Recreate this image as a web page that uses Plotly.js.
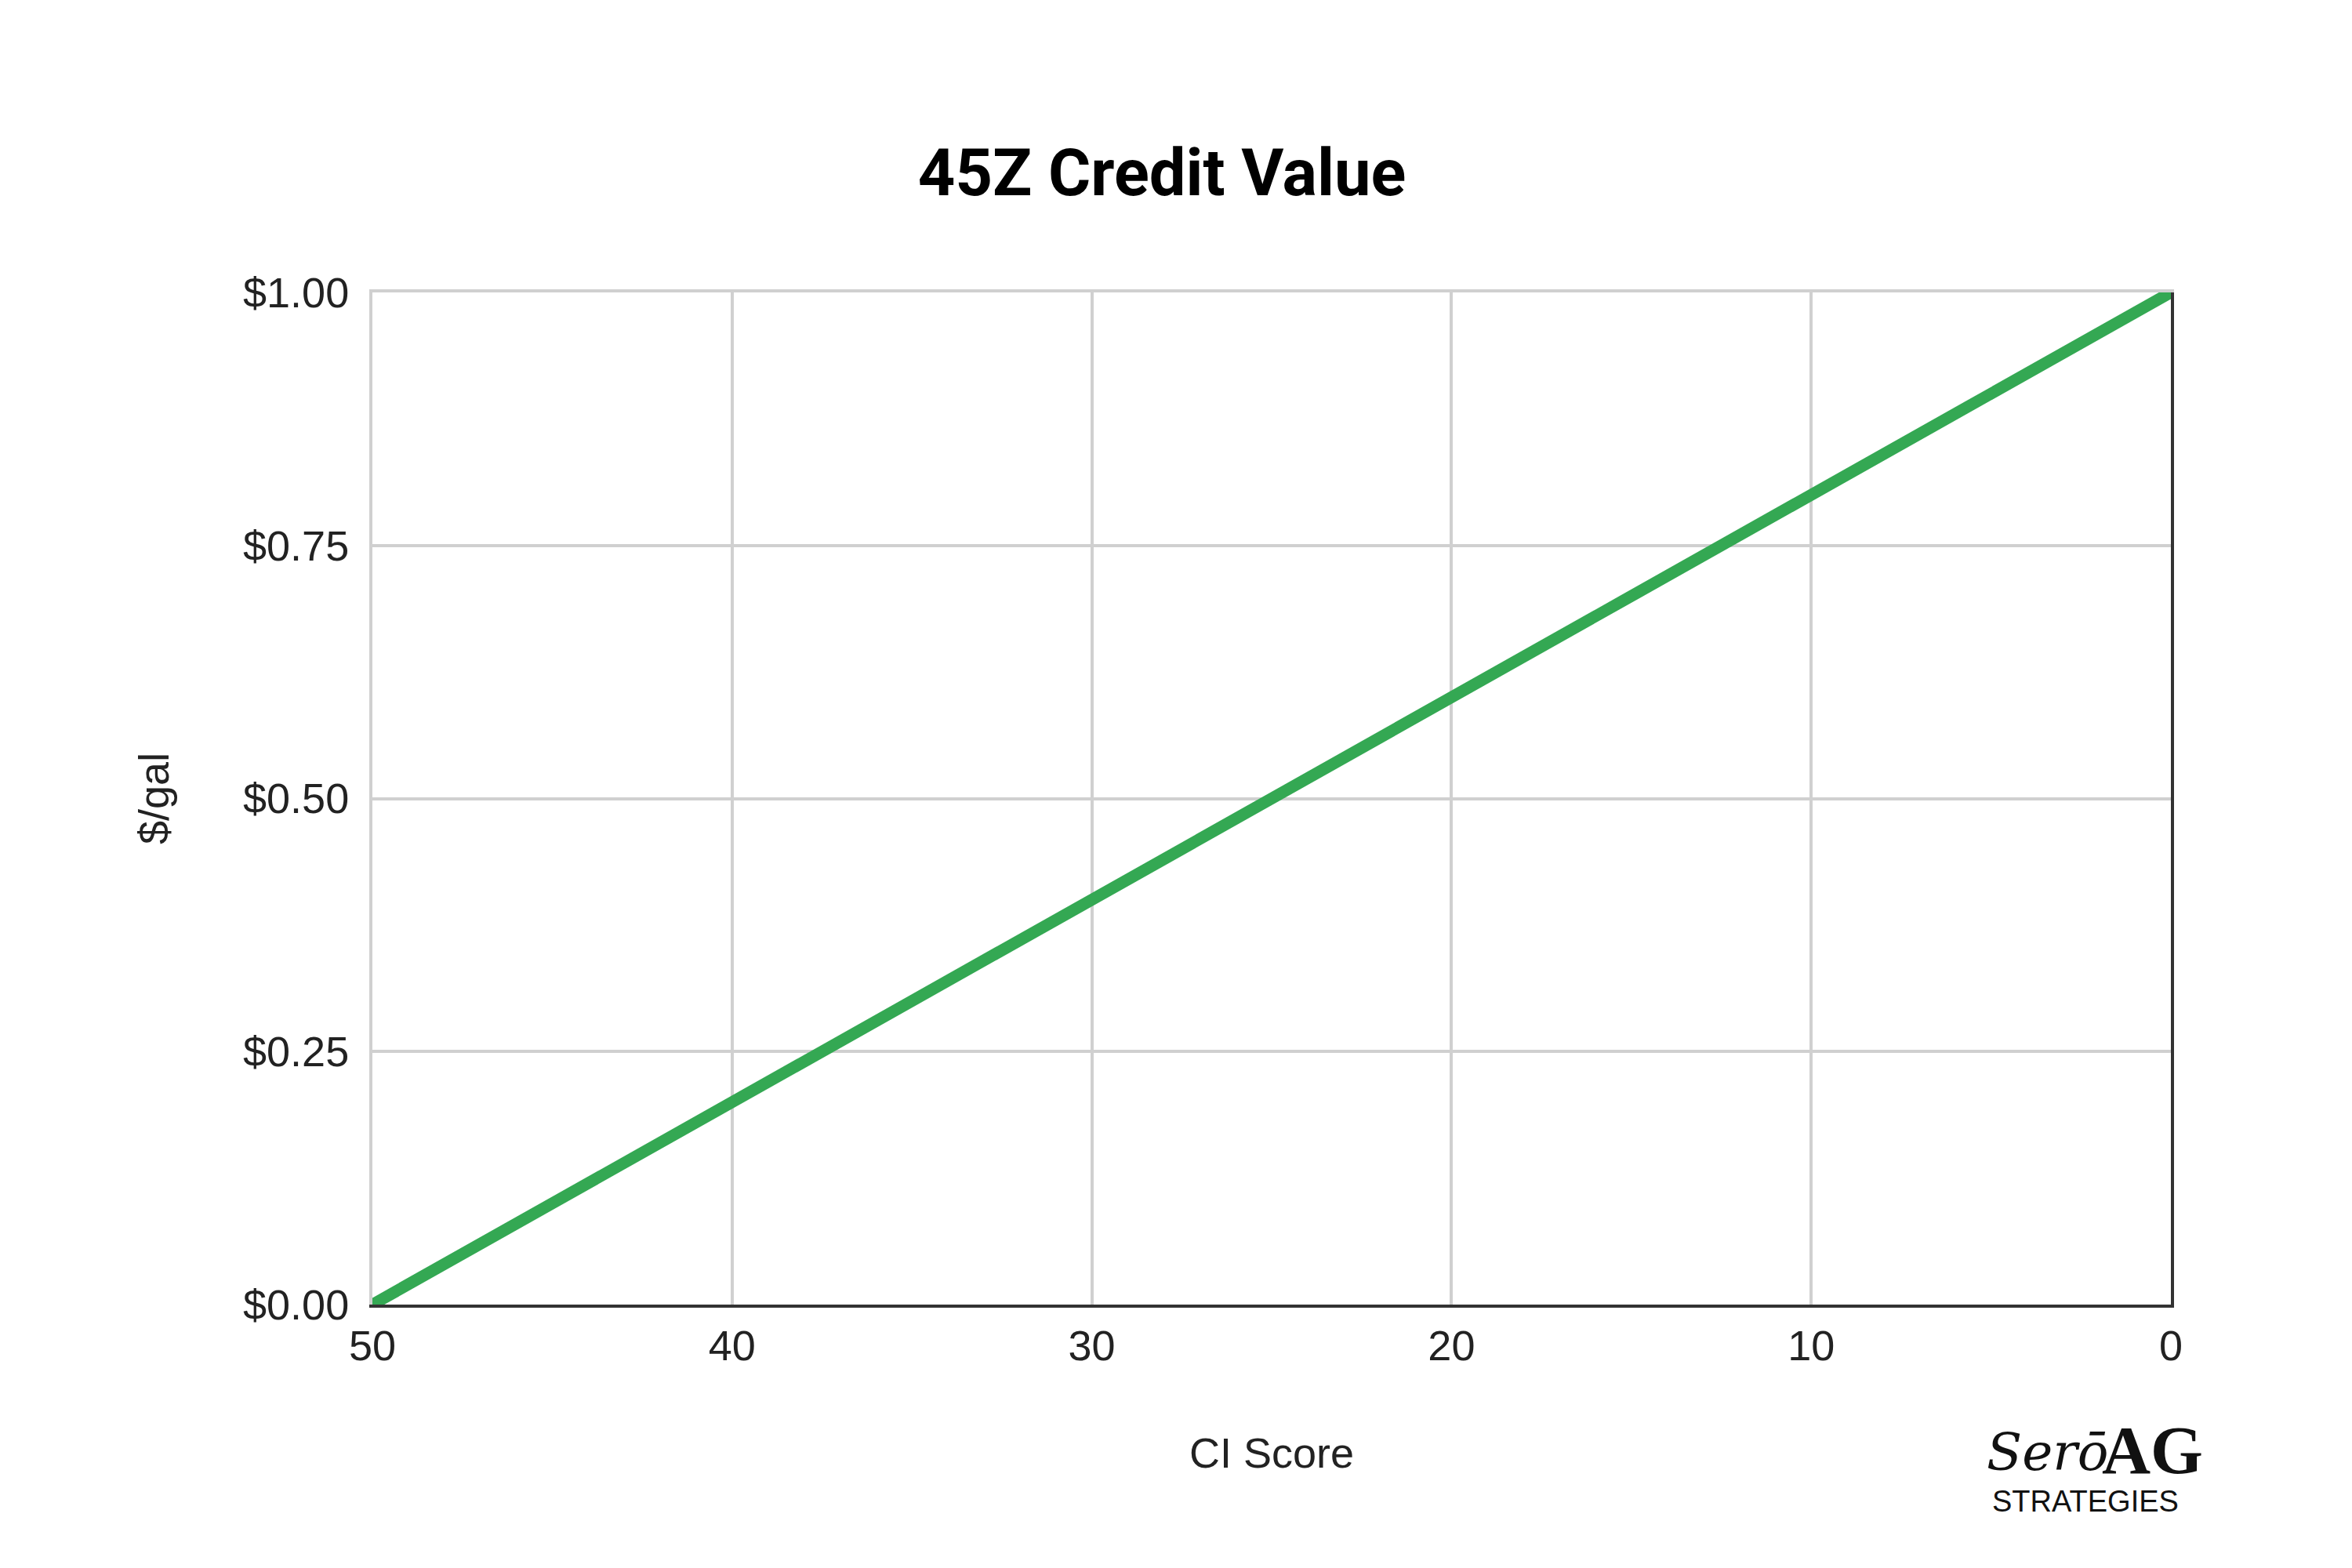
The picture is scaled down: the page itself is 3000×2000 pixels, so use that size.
<!DOCTYPE html>
<html>
<head>
<meta charset="utf-8">
<script src="https://cdn.plot.ly/plotly-3.0.1.min.js"></script>
<style>html,body{margin:0;padding:0;background:#fff;}#chart{width:3000px;height:2000px;}</style>
</head>
<body>
<div id="chart"></div>
<script>
const ciScore = [50, 40, 30, 20, 10, 0];
const creditValue = [0, 0.2, 0.4, 0.6, 0.8, 1.0];
const xTickVals = [50, 40, 30, 20, 10, 0];
const xTickText = ['50', '40', '30', '20', '10', '0'];
const yTickVals = [0, 0.25, 0.5, 0.75, 1.0];
const yTickText = ['$0.00', '$0.25', '$0.50', '$0.75', '$1.00'];
const chartTitle = '45Z Credit Value';
const xTitle = 'CI Score';
const yTitle = '$/gal';

const tickFont = {family: 'Liberation Sans, Arial, sans-serif', size: 54, color: '#222'};

const trace = {
  x: ciScore,
  y: creditValue,
  type: 'scatter',
  mode: 'lines',
  line: {color: '#34A853', width: 15},
  hoverinfo: 'skip',
  showlegend: false
};

// invisible trace so that the frame axes (top and right edges) are drawn
const frameTrace = {
  x: ciScore,
  y: creditValue,
  xaxis: 'x2',
  yaxis: 'y2',
  type: 'scatter',
  mode: 'lines',
  line: {color: 'rgba(0,0,0,0)', width: 0},
  hoverinfo: 'skip',
  showlegend: false
};

const layout = {
  width: 3000,
  height: 2000,
  paper_bgcolor: '#fff',
  plot_bgcolor: '#fff',
  margin: {l: 475, r: 231, t: 373, b: 336, pad: 0},
  title: {
    text: '<b>' + chartTitle + '</b>',
    font: {family: 'Roboto, sans-serif', size: 83, color: '#000'},
    x: 0.494, xanchor: 'center',
    y: 0.89, yanchor: 'middle'
  },
  xaxis: {
    range: [50, 0],
    tickvals: xTickVals,
    ticktext: xTickText,
    tickfont: tickFont,
    ticks: '',
    ticklabelstandoff: 2,
    showgrid: true, gridcolor: '#d0d0d0', gridwidth: 4,
    zeroline: false,
    showline: true, linecolor: '#333333', linewidth: 4,
    title: {text: xTitle, font: tickFont, standoff: 90},
    automargin: false,
    fixedrange: true
  },
  yaxis: {
    range: [0, 1],
    tickvals: yTickVals,
    ticktext: yTickText,
    tickfont: tickFont,
    ticks: '',
    ticklabelstandoff: 15,
    showgrid: true, gridcolor: '#d0d0d0', gridwidth: 4,
    zeroline: false,
    showline: true, linecolor: '#d0d0d0', linewidth: 4,
    title: {text: yTitle, font: tickFont, standoff: 78},
    automargin: false,
    fixedrange: true
  },
  xaxis2: {
    overlaying: 'x', side: 'top', range: [50, 0], anchor: 'y2',
    showline: true, linecolor: '#d0d0d0', linewidth: 4,
    showgrid: false, zeroline: false, showticklabels: false, ticks: '',
    fixedrange: true
  },
  yaxis2: {
    overlaying: 'y', side: 'right', range: [0, 1], anchor: 'x2',
    showline: true, linecolor: '#333333', linewidth: 4,
    showgrid: false, zeroline: false, showticklabels: false, ticks: '',
    fixedrange: true
  },
  annotations: [
    {xref: 'paper', yref: 'paper', x: (2612 - 475) / 2294, y: (1664 - 1852) / 1291,
     text: '<i>Serō</i>', showarrow: false, xanchor: 'center', yanchor: 'middle',
     font: {family: 'DejaVu Serif, serif', size: 66, color: '#111'}},
    {xref: 'paper', yref: 'paper', x: (2745 - 475) / 2294, y: (1664 - 1850) / 1291,
     text: '<b>AG</b>', showarrow: false, xanchor: 'center', yanchor: 'middle',
     font: {family: 'Liberation Serif, serif', size: 86, color: '#111'}},
    {xref: 'paper', yref: 'paper', x: (2660 - 475) / 2294, y: (1664 - 1915) / 1291,
     text: 'STRATEGIES', showarrow: false, xanchor: 'center', yanchor: 'middle',
     font: {family: 'Liberation Sans Narrow, Liberation Sans, sans-serif', size: 38, color: '#111'}}
  ]
};

Plotly.newPlot('chart', [trace, frameTrace], layout, {staticPlot: true, displayModeBar: false});
</script>
</body>
</html>
